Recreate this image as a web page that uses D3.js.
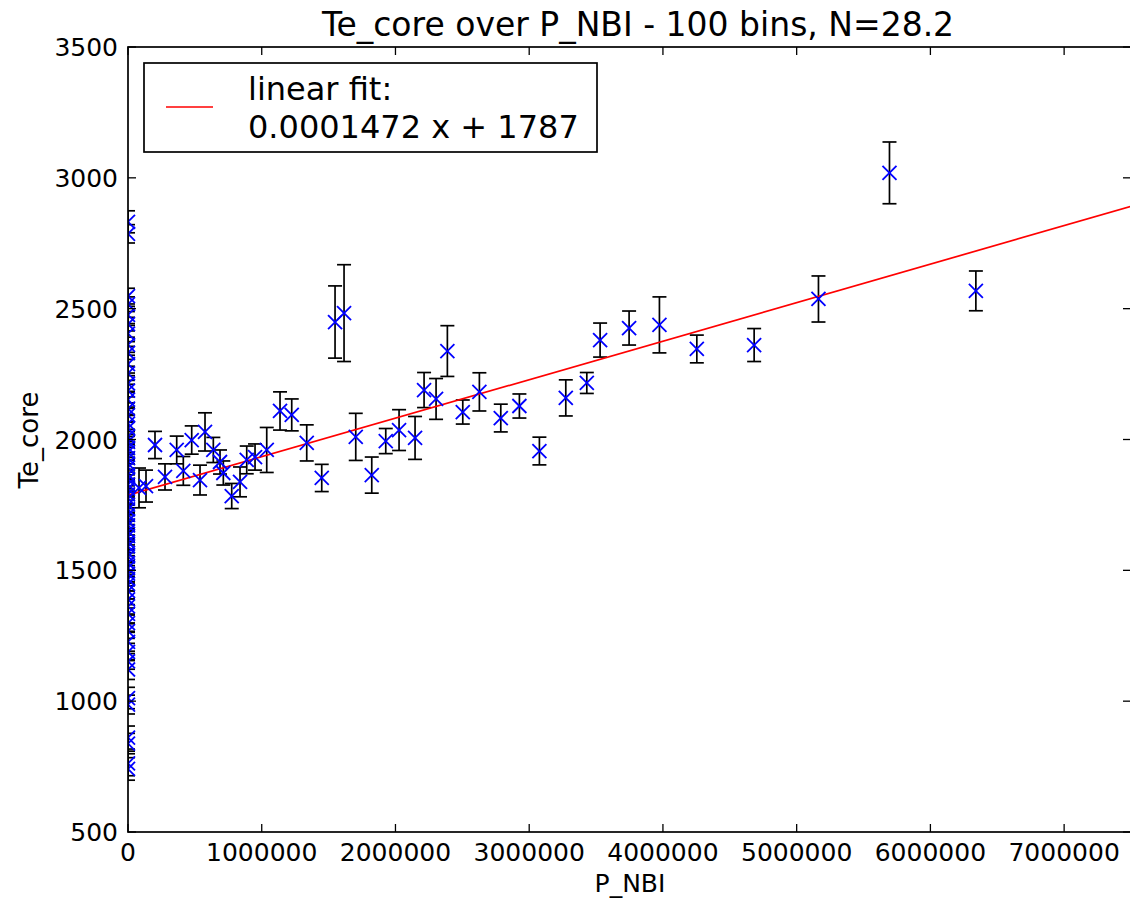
<!DOCTYPE html>
<html><head><meta charset="utf-8">
<script src="https://cdn.jsdelivr.net/npm/d3@7"></script>
<style>body{margin:0;background:#fff}svg{display:block}text{font-family:"DejaVu Sans",sans-serif;fill:#000}</style>
</head><body>
<script>
const title = "Te_core over P_NBI - 100 bins, N=28.2";
const xLabel = "P_NBI", yLabel = "Te_core";
const xTicks = [0,1000000,2000000,3000000,4000000,5000000,6000000,7000000];
const yTicks = [500,1000,1500,2000,2500,3000,3500];
const fitSlope = 0.0001472, fitIntercept = 1787;
const legendLines = ["linear fit:", "0.0001472 x + 1787"];
// binned points with P_NBI > 0
const pX = [82300,134600,201900,276700,364200,413600,476400,538500,575900,638000,688100,712800,775600,837700,887800,949900,1037400,1136800,1224300,1336500,1448700,1548200,1615500,1703000,1822700,1927400,2026900,2146500,2213900,2303600,2388100,2503300,2627500,2787500,2926700,3076300,3273600,3430800,3530200,3747000,3973800,4253400,4682000,5163000,5694000,6340000];
const pY = [1815,1822,1979,1857,1960,1880,1998,1845,2029,1960,1914,1872,1784,1838,1922,1933,1960,2109,2094,1987,1853,2449,2483,2010,1864,1994,2036,2006,2189,2155,2338,2105,2182,2082,2128,1956,2159,2216,2380,2426,2438,2346,2361,2537,3019,2568];
const pErr = [76,61,52,50,53,55,54,57,73,48,46,46,48,57,53,50,86,73,61,69,52,138,185,90,69,48,78,82,67,78,97,46,73,53,46,53,69,40,65,65,107,53,63,88,118,76];
// bins at P_NBI ~ 0
const zY = [2832,2786,2548,2517,2476,2441,2405,2362,2331,2288,2253,2214,2187,2152,2118,2093,2061,2043,2012,1991,1968,1952,1929,1908,1893,1866,1849,1828,1812,1790,1774,1751,1733,1712,1688,1672,1649,1631,1608,1592,1567,1553,1528,1509,1487,1466,1448,1421,1389,1362,1334,1298,1268,1227,1188,1152,1121,1012,987,861,838,762,741];
const zErr = [42,35,30,28,33,26,31,29,25,34,27,30,24,28,22,26,31,23,27,21,25,29,22,24,28,20,26,23,27,22,25,29,21,24,28,23,26,22,27,25,30,24,28,26,31,25,27,30,33,29,35,31,28,36,33,30,38,41,36,44,39,47,43];
const zX = zY.map(()=>0);

const W=1130,H=899;
const L=128,R=1131,T=47,B=832;
const x=d3.scaleLinear().domain([0,7500000]).range([L,R]);
const y=d3.scaleLinear().domain([500,3500]).range([B,T]);

const svg=d3.select("body").append("svg").attr("width",W).attr("height",H);
svg.append("defs").append("clipPath").attr("id","clip").append("rect")
  .attr("x",L).attr("y",T).attr("width",R-L).attr("height",B-T);

const g=svg.append("g").attr("clip-path","url(#clip)");
const pts=pX.map((v,i)=>({x:v,y:pY[i],e:pErr[i]})).concat(zX.map((v,i)=>({x:v,y:zY[i],e:zErr[i]})));

// error bars
const eb=g.append("g").attr("stroke","#000").attr("stroke-width",1.7).attr("fill","none");
pts.forEach(d=>{
  const cx=x(d.x);
  eb.append("line").attr("x1",cx).attr("x2",cx).attr("y1",y(d.y-d.e)).attr("y2",y(d.y+d.e));
  [d.y-d.e,d.y+d.e].forEach(v=>eb.append("line").attr("x1",cx-7).attr("x2",cx+7).attr("y1",y(v)).attr("y2",y(v)));
});
// fit line
g.append("line").attr("x1",x(0)).attr("x2",x(7500000))
  .attr("y1",y(fitIntercept)).attr("y2",y(fitIntercept+fitSlope*7500000))
  .attr("stroke","#ff0000").attr("stroke-width",1.7);
// markers
const mk=g.append("g").attr("stroke","#0000ff").attr("stroke-width",1.8);
pts.forEach(d=>{
  const cx=x(d.x),cy=y(d.y),s=7;
  mk.append("line").attr("x1",cx-s).attr("y1",cy-s).attr("x2",cx+s).attr("y2",cy+s);
  mk.append("line").attr("x1",cx-s).attr("y1",cy+s).attr("x2",cx+s).attr("y2",cy-s);
});

// frame
svg.append("rect").attr("x",L).attr("y",T).attr("width",R-L).attr("height",B-T)
  .attr("fill","none").attr("stroke","#000").attr("stroke-width",1.7);
// ticks
const tk=svg.append("g").attr("stroke","#000").attr("stroke-width",1.3);
xTicks.forEach(v=>{
  tk.append("line").attr("x1",x(v)).attr("x2",x(v)).attr("y1",B).attr("y2",B-8);
  tk.append("line").attr("x1",x(v)).attr("x2",x(v)).attr("y1",T).attr("y2",T+8);
  svg.append("text").attr("x",x(v)).attr("y",861).attr("text-anchor","middle")
    .attr("font-size",25).text(d3.format("d")(v));
});
yTicks.forEach(v=>{
  tk.append("line").attr("x1",L).attr("x2",L+8).attr("y1",y(v)).attr("y2",y(v));
  tk.append("line").attr("x1",R).attr("x2",R-8).attr("y1",y(v)).attr("y2",y(v));
  svg.append("text").attr("x",118).attr("y",y(v)+9).attr("text-anchor","end")
    .attr("font-size",25).text(v);
});
// title & labels
svg.append("text").attr("x",638).attr("y",36).attr("text-anchor","middle").attr("font-size",33).text(title);
svg.append("text").attr("x",630).attr("y",892).attr("text-anchor","middle").attr("font-size",25).text(xLabel);
svg.append("text").attr("transform","translate(38,440) rotate(-90)").attr("text-anchor","middle").attr("font-size",26).text(yLabel);

// legend
svg.append("rect").attr("x",144).attr("y",63).attr("width",453).attr("height",89)
  .attr("fill","#fff").attr("stroke","#000").attr("stroke-width",1.7);
svg.append("line").attr("x1",166).attr("x2",213).attr("y1",107).attr("y2",107).attr("stroke","#ff0000").attr("stroke-width",1.7);
legendLines.forEach((t,i)=>svg.append("text").attr("x",248).attr("y",100+i*38).attr("font-size",32).text(t));
</script>
</body></html>
